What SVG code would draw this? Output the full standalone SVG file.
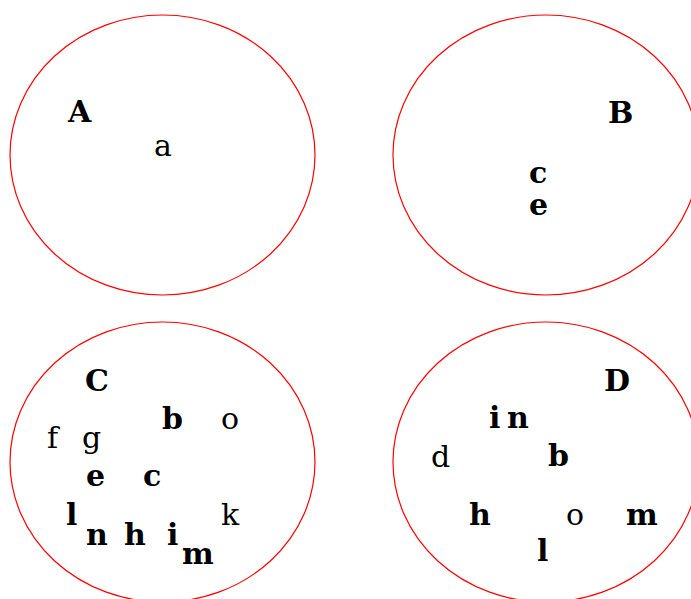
<svg xmlns="http://www.w3.org/2000/svg" width="691" height="599" viewBox="0 0 691 599">
<style>
.set{fill:none;stroke:#ff0000;stroke-width:1.2}
text{font-family:"DejaVu Serif","Liberation Serif",serif;font-size:30px;fill:#000}
.b{font-weight:bold}
</style>
<rect width="691" height="599" fill="#fff"/>
<g id="setA">
<ellipse class="set" cx="162.5" cy="155" rx="152.5" ry="140"/>
<text class="b" x="68" y="122">A</text>
<text x="154" y="156">a</text>
</g>
<g id="setB">
<ellipse class="set" cx="546" cy="155" rx="153" ry="140"/>
<text class="b" x="608" y="123">B</text>
<text class="b" x="529" y="183">c</text>
<text class="b" x="529" y="215">e</text>
</g>
<g id="setC">
<ellipse class="set" cx="162.5" cy="462" rx="152.5" ry="140"/>
<text class="b" x="85" y="391">C</text>
<text x="47" y="448">f</text>
<text x="82" y="448">g</text>
<text class="b" x="162" y="429">b</text>
<text x="221" y="429">o</text>
<text class="b" x="86" y="486">e</text>
<text class="b" x="143" y="486">c</text>
<text class="b" x="66" y="525">l</text>
<text x="221" y="525">k</text>
<text class="b" x="86" y="545">n</text>
<text class="b" x="124" y="545">h</text>
<text class="b" x="167" y="545">i</text>
<text class="b" x="182" y="564">m</text>
</g>
<g id="setD">
<ellipse class="set" cx="546" cy="462" rx="153" ry="140"/>
<text class="b" x="604" y="391">D</text>
<text class="b" x="489" y="428">i</text>
<text class="b" x="507" y="428">n</text>
<text x="431" y="467">d</text>
<text class="b" x="548" y="466">b</text>
<text class="b" x="469" y="525">h</text>
<text x="566" y="525">o</text>
<text class="b" x="626" y="525">m</text>
<text class="b" x="537" y="561">l</text>
</g>
<g id="connectors"></g>
</svg>
